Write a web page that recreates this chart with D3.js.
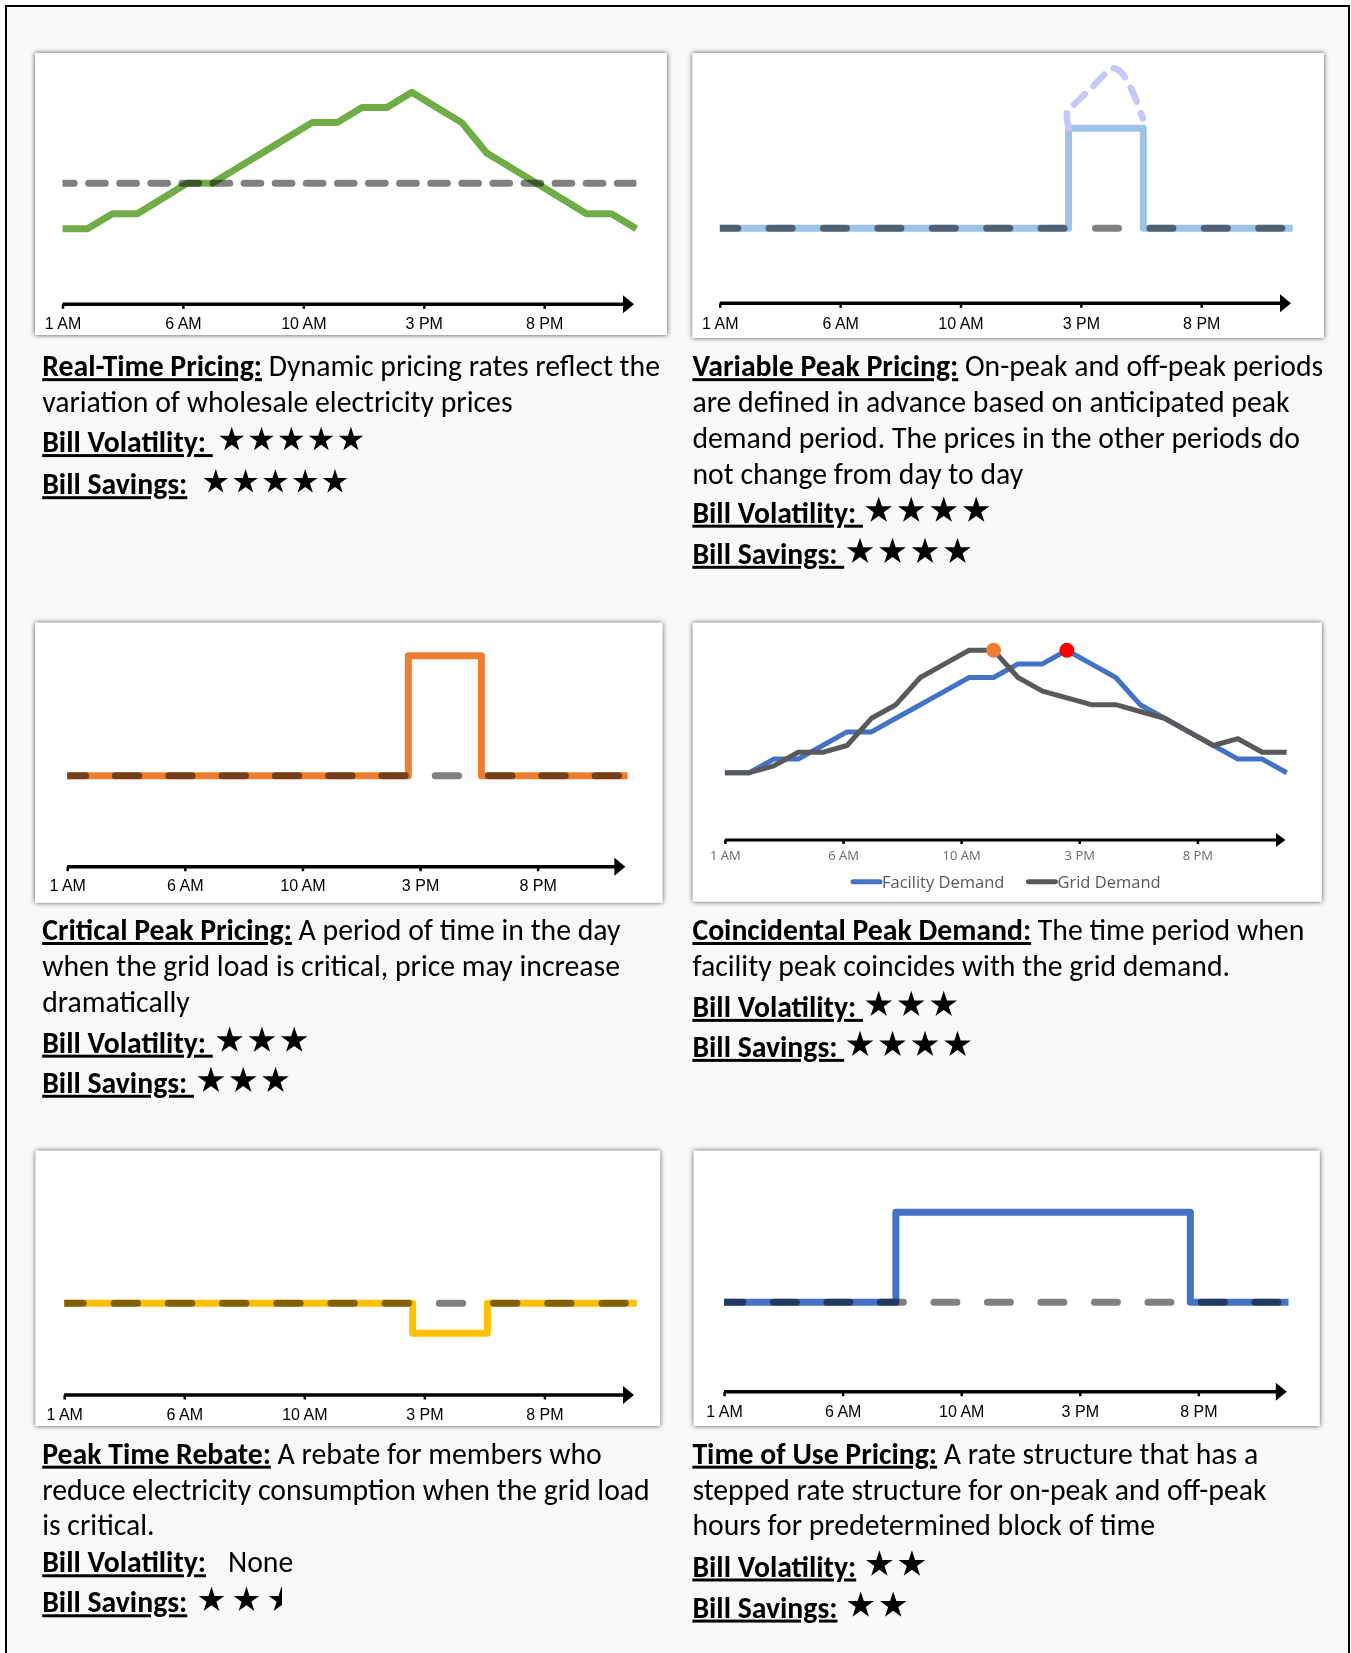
<!DOCTYPE html>
<html>
<head>
<meta charset="utf-8">
<title>Electricity rate structures</title>
<script src="https://cdn.jsdelivr.net/npm/d3@7"></script>
<style>
  html, body { margin: 0; padding: 0; background: #ffffff; }
  svg { display: block; }
</style>
</head>
<body>
<svg id="sheet"></svg>
<script>
// DATA
////////////////////////////
// hour of day of each reading: 1 = 1 AM ... 24 = midnight
var hours = [1,2,3,4,5,6,7,8,9,10,11,12,13,14,15,16,17,18,19,20,21,22,23,24];
var tickLabels = ['1 AM', '6 AM', '10 AM', '3 PM', '8 PM'];

// levels, relative units
var realTimePrice  = [2,2,3,3,4,5,5,6,7,8,9,9,10,10,11,10,9,7,6,5,4,3,3,2];
var realTimeAvg    = 5;
var variablePeak   = [2,2,2,2,2,2,2,2,2,2,2,2,2,2,6,6,6,2,2,2,2,2,2,2];
var variablePeakHigh = [[15,6],[14.95,6.7],[15.27,7.0],[15.9,7.6],[16.8,8.4],[17.1,8.25],[17.55,7.5],[17.98,6.4]]; // [hour, level]
var criticalPeak   = [2,2,2,2,2,2,2,2,2,2,2,2,2,2,6.8,6.8,6.8,2,2,2,2,2,2,2];
var facilityDemand = [2,2,3,3,4,5,5,6,7,8,9,9,10,10,11,10,9,7,6,5,4,3,3,2];
var gridDemand     = [2,2,2.5,3.5,3.5,4,6,7,9,10,11,11,9,8,7.5,7,7,6.5,6,5,4,4.5,3.5,3.5];
var gridPeakHour = 12, facilityPeakHour = 15;
var peakRebate     = [2,2,2,2,2,2,2,2,2,2,2,2,2,2,0.8,0.8,0.8,2,2,2,2,2,2,2];
var timeOfUse      = [2,2,2,2,2,2,2,5.6,5.6,5.6,5.6,5.6,5.6,5.6,5.6,5.6,5.6,5.6,5.6,2,2,2,2,2];
var flatRate = 2;

var legendLabels = ['Facility Demand', 'Grid Demand'];

// star ratings per panel (0 = none)
var volatility = [5, 4, 3, 3, 0, 2];
var savings    = [5, 4, 3, 4, 2.5, 2];

var titles = ['Real-Time Pricing:', 'Variable Peak Pricing:', 'Critical Peak Pricing:',
              'Coincidental Peak Demand:', 'Peak Time Rebate:', 'Time of Use Pricing:'];
var descriptions = [
  [' Dynamic pricing rates reflect the', 'variation of wholesale electricity prices'],
  [' On-peak and off-peak periods', 'are defined in advance based on anticipated peak',
   'demand period. The prices in the other periods do', 'not change from day to day'],
  [' A period of time in the day', 'when the grid load is critical, price may increase', 'dramatically'],
  [' The time period when', 'facility peak coincides with the grid demand.'],
  [' A rebate for members who', 'reduce electricity consumption when the grid load', 'is critical.'],
  [' A rate structure that has a', 'stepped rate structure for on-peak and off-peak', 'hours for predetermined block of time']
];
var volLabels = ['Bill Volatility: ', 'Bill Volatility: ', 'Bill Volatility: ', 'Bill Volatility: ', 'Bill Volatility:', 'Bill Volatility:'];
var savLabels = ['Bill Savings:', 'Bill Savings: ', 'Bill Savings: ', 'Bill Savings: ', 'Bill Savings:', 'Bill Savings:'];


// LAYOUT (pixels)
////////////////////////////
var W = 1351, H = 1653;
var TICK_FRAC = 0.2107;        // tick spacing as share of axis length
var BODY_FONT = 'Carlito, Calibri, Lato, sans-serif';
var AXIS_FONT = '"Liberation Sans", Arial, sans-serif';
var SMALL_FONT = '"Open Sans", "Segoe UI", sans-serif';

var layout = [
  {box:[35,53,632,282], x0:62.5, x1:636.4, axisY:304.3, tip:634, lab:18.7, yRange:[259.15,107.45],
   dash:[16.7,14.4], dashOff:5, tx:42.2, lines:[376.2,412], vol:452.1, sav:494.2,
   starR:13, starStep:29.8, volGap:19, savGap:28.5},
  {box:[692.5,53,631.5,285], x0:719.8, x1:1292.8, axisY:303.3, tip:1291, lab:19.7, yRange:[278.3,28.3],
   dash:[23,31.4], dashOff:5.1, tx:692.4, lines:[376.2,412,447.9,483.7], vol:522.7, sav:563.8,
   starR:14, starStep:32.5, volGap:15.8, savGap:15.8},
  {box:[35,622.7,627.5,280], x0:67.2, x1:627.6, axisY:866.7, tip:625.4, lab:19, yRange:[825.7,575.7],
   dash:[23.4,29.9], dashOff:5.1, tx:42.2, lines:[940,975.8,1011.6], vol:1052.7, sav:1092.8,
   starR:14, starStep:32.3, volGap:16.9, savGap:16.9},
  {box:[692.8,622.7,629,279], x0:724.9, x1:1286.7, axisY:840, tip:1285.5, lab:15, yRange:[799.9,663.9],
   tx:692.4, lines:[940,975.8], vol:1016.9, sav:1056.9,
   starR:14, starStep:32.5, volGap:15.8, savGap:15.8, legendY:881.7, legendX:851},
  {box:[35.6,1150.7,624.5,275.3], x0:64.2, x1:636.7, axisY:1395, tip:634, lab:19, yRange:[1353.3,1103.3],
   dash:[23.4,30.8], dashOff:4.3, tx:42.2, lines:[1463.7,1499.6,1535.4], vol:1572.3, sav:1612.3,
   starR:13.5, starStep:35, volGap:22, savGap:24.2},
  {box:[693.7,1150.7,626,275.3], x0:724.1, x1:1288.5, axisY:1391.7, tip:1286.8, lab:19.3, yRange:[1352.3,1102.3],
   dash:[23,30.5], dashOff:4.2, tx:692.4, lines:[1463.7,1499.6,1535.4], vol:1576.5, sav:1617.6,
   starR:14, starStep:32.5, volGap:23.2, savGap:23.2}
];

// what goes in each chart
var panels = [
  {series:[{values:realTimePrice, color:'#70AD47', width:7}], flat:realTimeAvg},
  {series:[{values:variablePeak, color:'#9DC3E6', width:7, curve:d3.curveStepAfter}], flat:flatRate, high:variablePeakHigh},
  {series:[{values:criticalPeak, color:'#ED7D31', width:7, curve:d3.curveStepAfter}], flat:flatRate},
  {series:[{values:facilityDemand, color:'#4472C4', width:5}, {values:gridDemand, color:'#595959', width:5}],
   dots:[{values:gridDemand, hour:gridPeakHour, color:'#ED7D31'}, {values:facilityDemand, hour:facilityPeakHour, color:'#FF0000'}],
   legend:true, small:true},
  {series:[{values:peakRebate, color:'#FFC000', width:7, curve:d3.curveStepAfter}], flat:flatRate},
  {series:[{values:timeOfUse, color:'#4472C4', width:7, curve:d3.curveStepAfter}], flat:flatRate}
];


// SETUP
////////////////////////////
var svg = d3.select('#sheet').attr('width', W).attr('height', H);
var defs = svg.append('defs');
defs.append('filter').attr('id', 'boxShadow')
    .attr('x', '-3%').attr('y', '-3%').attr('width', '106%').attr('height', '106%')
  .append('feDropShadow')
    .attr('dx', 0).attr('dy', 0).attr('stdDeviation', 2.4)
    .attr('flood-color', '#4a4a4a').attr('flood-opacity', 1);

// page frame
svg.append('rect')
    .attr('x', 6).attr('y', 6).attr('width', 1343).attr('height', 1720)
    .attr('fill', '#F7FAF9').attr('stroke', '#000').attr('stroke-width', 2);

// body font size: fit the first lines to their width in the picture
var bodySize = (function() {
  var targets = [[0, 623.7], [1, 625.2]];
  var probe = svg.append('text').attr('font-family', BODY_FONT).attr('font-size', 30).style('white-space', 'pre');
  var s = targets.map(function(t) {
    probe.selectAll('tspan').remove();
    probe.append('tspan').attr('font-weight', 'bold').text(titles[t[0]]);
    probe.append('tspan').text(descriptions[t[0]][0]);
    return 30 * t[1] / probe.node().getComputedTextLength();
  });
  probe.remove();
  return d3.mean(s);
})();

var clipId = 0;

// DRAW
////////////////////////////
panels.forEach(function(p, i) {
  var L = layout[i];
  var g = svg.append('g').attr('class', 'panel');

  g.append('rect')
      .attr('x', L.box[0]).attr('y', L.box[1]).attr('width', L.box[2]).attr('height', L.box[3])
      .attr('fill', '#fff').attr('filter', 'url(#boxShadow)');

  var x = d3.scaleLinear().domain(d3.extent(hours)).range([L.x0, L.x1]);
  var y = d3.scaleLinear().domain([0, 10]).range(L.yRange);

  // plot clip so dashed caps stop where the series start/end
  var pid = 'plot' + i;
  defs.append('clipPath').attr('id', pid)
    .append('rect')
      .attr('x', L.x0).attr('y', L.box[1])
      .attr('width', L.x1 - L.x0).attr('height', L.axisY - L.box[1] - 10);

  // series lines
  p.series.forEach(function(s) {
    var line = d3.line()
        .x(function(d, j) { return x(hours[j]); })
        .y(function(d) { return y(d); })
        .curve(s.curve || d3.curveLinear);
    g.append('path')
        .attr('d', line(s.values))
        .attr('fill', 'none')
        .attr('stroke', s.color)
        .attr('stroke-width', s.width)
        .attr('stroke-linejoin', 'round');
  });

  // flat reference rate, dashed, darkens what it crosses
  if (p.flat !== undefined) {
    var flatLine = d3.line().x(function(d) { return x(d); }).y(function() { return y(p.flat); });
    g.append('path')
        .attr('d', flatLine(d3.extent(hours)))
        .attr('clip-path', 'url(#' + pid + ')')
        .attr('fill', 'none')
        .attr('stroke', '#808080')
        .attr('stroke-width', 7)
        .attr('stroke-linecap', 'round')
        .attr('stroke-dasharray', L.dash.join(' '))
        .attr('stroke-dashoffset', L.dashOff)
        .style('mix-blend-mode', 'multiply');
  }

  // possible higher peak (variable peak pricing)
  if (p.high) {
    var hiLine = d3.line()
        .x(function(d) { return x(d[0]); })
        .y(function(d) { return y(d[1]); })
        .curve(d3.curveCatmullRom.alpha(0.5));
    g.append('path')
        .attr('d', hiLine(p.high))
        .attr('fill', 'none')
        .attr('stroke', '#C8C8F8')
        .attr('stroke-width', 6.5)
        .attr('stroke-linecap', 'round')
        .attr('stroke-dasharray', '15 12');
  }

  // peak markers
  if (p.dots) {
    g.selectAll('circle.peak').data(p.dots).enter().append('circle')
        .attr('class', 'peak')
        .attr('cx', function(d) { return x(d.hour); })
        .attr('cy', function(d) { return y(d.values[hours.indexOf(d.hour)]); })
        .attr('r', 7.5)
        .attr('fill', function(d) { return d.color; });
  }

  // time axis with arrow
  var tickScale = d3.scalePoint().domain(tickLabels)
      .range([L.x0, L.x0 + (tickLabels.length - 1) * TICK_FRAC * (L.tip - L.x0)]);
  var fs = p.small ? 13 : 16;
  var capMid = fs * (0.71 - 0.358);
  var tickSize = p.small ? 4 : 4.5;
  var ax = g.append('g')
      .attr('transform', 'translate(0,' + L.axisY + ')')
      .call(d3.axisBottom(tickScale).tickSize(tickSize).tickPadding(L.lab - capMid - tickSize));
  ax.select('.domain').remove();
  ax.selectAll('.tick line').attr('stroke', '#000').attr('stroke-width', 2.5);
  ax.selectAll('.tick text')
      .attr('font-family', p.small ? SMALL_FONT : AXIS_FONT)
      .attr('font-size', fs)
      .attr('fill', p.small ? '#6b6b6b' : '#000');

  var ah = p.small ? 9.5 : 11, aw = p.small ? 7 : 9;
  g.append('line')
      .attr('x1', L.x0).attr('x2', L.tip - ah + 1)
      .attr('y1', L.axisY).attr('y2', L.axisY)
      .attr('stroke', '#000').attr('stroke-width', p.small ? 3 : 3.5);
  g.append('path')
      .attr('d', 'M' + (L.tip - ah) + ',' + (L.axisY - aw) + 'L' + L.tip + ',' + L.axisY +
                 'L' + (L.tip - ah) + ',' + (L.axisY + aw) + 'Z')
      .attr('fill', '#000');

  // legend (coincidental peak)
  if (p.legend) {
    var lx = L.legendX;
    legendLabels.forEach(function(lab, k) {
      g.append('line')
          .attr('x1', lx + 2).attr('x2', lx + 29)
          .attr('y1', L.legendY).attr('y2', L.legendY)
          .attr('stroke', p.series[k].color).attr('stroke-width', 5).attr('stroke-linecap', 'round');
      var t = g.append('text')
          .attr('x', lx + 31).attr('y', L.legendY + 5.8)
          .attr('font-family', SMALL_FONT).attr('font-size', 16.5)
          .attr('fill', '#595959').text(lab);
      lx += 31 + t.node().getComputedTextLength() + 22;
    });
  }

  // description text
  var tg = g.append('g')
      .attr('font-family', BODY_FONT)
      .attr('font-size', bodySize)
      .attr('fill', '#000');
  descriptions[i].forEach(function(line, k) {
    var t = tg.append('text').attr('x', L.tx).attr('y', L.lines[k]).style('white-space', 'pre');
    if (k === 0) {
      t.append('tspan').attr('font-weight', 'bold').attr('text-decoration', 'underline').text(titles[i]);
    }
    t.append('tspan').text(line);
  });

  ratingRow(tg, L.tx, L.vol, volLabels[i], volatility[i], L.volGap, L);
  ratingRow(tg, L.tx, L.sav, savLabels[i], savings[i], L.savGap, L);
});


// FUNCTIONS
// =========
function ratingRow(g, x0, yBase, label, rating, gap, L) {
  var t = g.append('text').attr('x', x0).attr('y', yBase).style('white-space', 'pre');
  var lab = t.append('tspan')
      .attr('font-weight', 'bold').attr('text-decoration', 'underline')
      .text(label);
  var labW = lab.node().getComputedTextLength();

  if (!rating) {
    t.append('tspan').attr('dx', gap).text('None');
    return;
  }

  var R = L.starR;
  var star = d3.symbol().type(d3.symbolStar).size(R * R / 0.8908130915292852);
  var cy = yBase - 13.5 + 0.095 * R;
  var cx0 = x0 + labW + gap;
  var n = Math.ceil(rating);
  for (var k = 0; k < n; k++) {
    var cx = cx0 + k * L.starStep;
    var s = g.append('path')
        .attr('d', star())
        .attr('transform', 'translate(' + cx + ',' + cy + ')')
        .attr('fill', '#000');
    if (rating - k < 1) {           // half star: left half only (clip is in the star's own coords)
      var id = 'halfStar' + (clipId++);
      defs.append('clipPath').attr('id', id)
        .append('rect')
          .attr('x', -R - 3).attr('y', -R - 2)
          .attr('width', R + 3.5).attr('height', 2 * R + 4);
      s.attr('clip-path', 'url(#' + id + ')');
    }
  }
}
</script>
</body>
</html>
